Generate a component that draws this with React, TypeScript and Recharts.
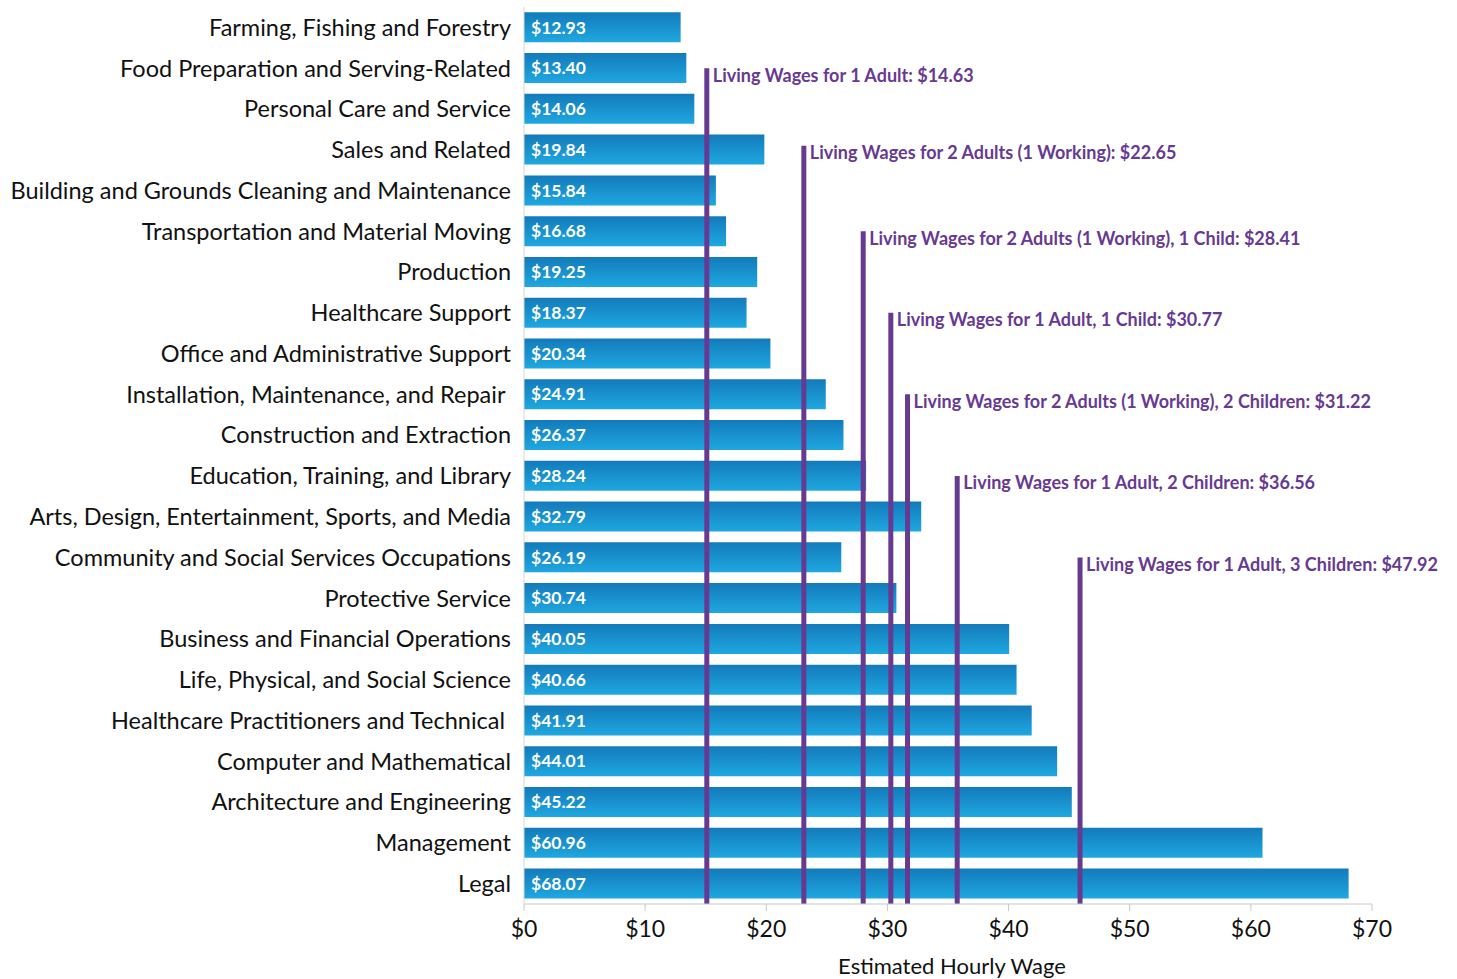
import { BarChart, Bar, XAxis, YAxis, ReferenceLine, LabelList } from "recharts";

const occupations = [
  "Farming, Fishing and Forestry",
  "Food Preparation and Serving-Related",
  "Personal Care and Service",
  "Sales and Related",
  "Building and Grounds Cleaning and Maintenance",
  "Transportation and Material Moving",
  "Production",
  "Healthcare Support",
  "Office and Administrative Support",
  "Installation, Maintenance, and Repair\u00a0",
  "Construction and Extraction",
  "Education, Training, and Library",
  "Arts, Design, Entertainment, Sports, and Media",
  "Community and Social Services Occupations",
  "Protective Service",
  "Business and Financial Operations",
  "Life, Physical, and Social Science",
  "Healthcare Practitioners and Technical\u00a0",
  "Computer and Mathematical",
  "Architecture and Engineering",
  "Management",
  "Legal",
];

const hourlyWages = [
  12.93, 13.4, 14.06, 19.84, 15.84, 16.68, 19.25, 18.37, 20.34, 24.91, 26.37,
  28.24, 32.79, 26.19, 30.74, 40.05, 40.66, 41.91, 44.01, 45.22, 60.96, 68.07,
];

const livingWageLabels = [
  "Living Wages for 1 Adult: $14.63",
  "Living Wages for 2 Adults (1 Working): $22.65",
  "Living Wages for 2 Adults (1 Working), 1 Child: $28.41",
  "Living Wages for 1 Adult, 1 Child: $30.77",
  "Living Wages for 2 Adults (1 Working), 2 Children: $31.22",
  "Living Wages for 1 Adult, 2 Children: $36.56",
  "Living Wages for 1 Adult, 3 Children: $47.92",
];

// where the lines sit on the wage axis, as drawn in the picture
const livingWageLineX = [15.09, 23.1, 28.0, 30.28, 31.66, 35.76, 45.9];
// row (0 = top edge of first row, 22 = bottom edge of last) where each line starts
const livingWageLineStart = [1.5, 3.4, 5.5, 7.5, 9.5, 11.5, 13.5];

const xTicks = [0, 10, 20, 30, 40, 50, 60, 70];

const data = occupations.map((name, i) => ({ name, wage: hourlyWages[i] }));

const FONT = "Lato, 'Open Sans', sans-serif";
const PURPLE = "#673a92";
const rows = occupations.length;

// the segment runs from the first row's centre to the last row's centre;
// the row height is taken from those two points to place the real ends
const makeLineShape = (text: string, startRow: number) => (props: any) => {
  const { x1, y1, y2 } = props;
  const band = (y2 - y1) / (rows - 1);
  const top = y1 + (startRow - 0.5) * band;
  const bottom = y1 + (rows - 0.5) * band;
  return (
    <g>
      <line x1={x1} x2={x1} y1={top} y2={bottom} stroke={PURPLE} strokeWidth={5} />
      <text
        x={x1 + 6}
        y={top + 6.5}
        dominantBaseline="central"
        fill={PURPLE}
        fontFamily={FONT}
        fontWeight={700}
        fontSize={18}
      >
        {text}
      </text>
    </g>
  );
};

export default function App() {
  return (
    <div style={{ position: "absolute", left: 0, top: 0, background: "#fff" }}>
      <BarChart
        width={1457}
        height={979}
        data={data}
        layout="vertical"
        margin={{ top: 7, right: 85, bottom: 0, left: 0 }}
        barCategoryGap="13%"
      >
        <defs>
          <linearGradient id="barFill" x1="0" y1="0" x2="0" y2="1">
            <stop offset="0%" stopColor="#137abb" />
            <stop offset="100%" stopColor="#1fa8e0" />
          </linearGradient>
        </defs>
        <XAxis
          type="number"
          domain={[0, 70]}
          ticks={xTicks}
          tickFormatter={(v) => `$${v}`}
          height={75}
          tickSize={7}
          tickMargin={10}
          axisLine={{ stroke: "#c8c8c8" }}
          tickLine={{ stroke: "#c8c8c8" }}
          tick={{ fontSize: 23, fill: "#111", fontFamily: FONT }}
          label={{
            value: "Estimated Hourly Wage",
            position: "insideBottom",
            offset: 5,
            dx: 4,
            fontSize: 22,
            fill: "#111",
            fontFamily: FONT,
          }}
        />
        <YAxis
          type="category"
          dataKey="name"
          width={524}
          tickSize={0}
          tickMargin={13}
          interval={0}
          axisLine={{ stroke: "#d6d6d6" }}
          tickLine={false}
          tick={{ fontSize: 23.5, fill: "#111", fontFamily: FONT }}
        />
        <Bar dataKey="wage" fill="url(#barFill)" isAnimationActive={false}>
          <LabelList
            dataKey="wage"
            position="insideLeft"
            offset={7}
            formatter={(v: any) => `$${Number(v).toFixed(2)}`}
            fill="#fff"
            fontFamily={FONT}
            fontWeight={700}
            fontSize={17.5}
          />
        </Bar>
        {livingWageLabels.map((label, i) => (
          <ReferenceLine
            key={label}
            segment={[
              { x: livingWageLineX[i], y: occupations[0] },
              { x: livingWageLineX[i], y: occupations[rows - 1] },
            ]}
            ifOverflow="visible"
            shape={makeLineShape(label, livingWageLineStart[i])}
          />
        ))}
      </BarChart>
    </div>
  );
}
